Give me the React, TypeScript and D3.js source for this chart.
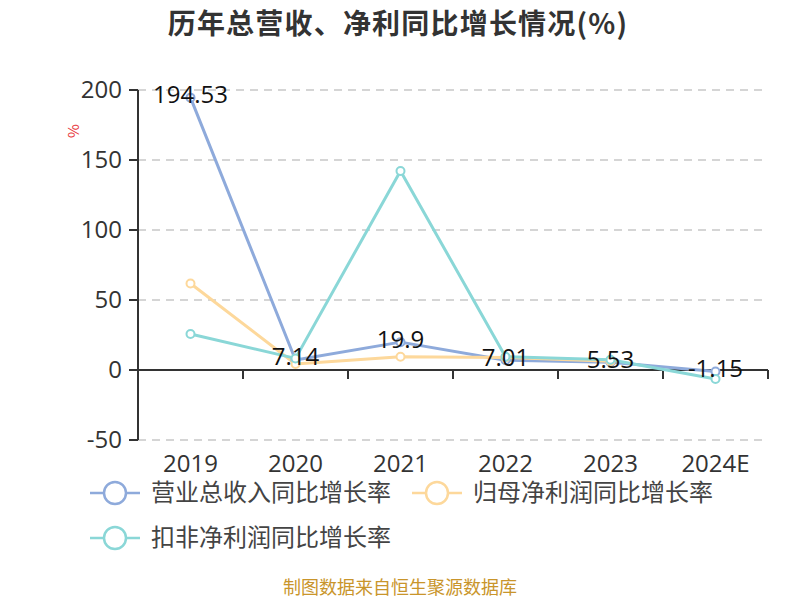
import React from "react";
import * as d3 from "d3";

const categories = ["2019", "2020", "2021", "2022", "2023", "2024E"];
const revenueGrowth: (number | null)[] = [194.53, 7.14, 19.9, 7.01, 5.53, -1.15];
const netProfitGrowth: (number | null)[] = [61.8, 4.3, 9.5, 9.0, 6.2, null];
const deductedProfitGrowth: (number | null)[] = [25.7, 8.3, 142.2, 9.5, 7.3, -6.4];
const yTicks = [-50, 0, 50, 100, 150, 200];
const seriesNames = ["营业总收入同比增长率", "归母净利润同比增长率", "扣非净利润同比增长率"];
const colors = ["#8eaadb", "#fdd89b", "#8ad7d7"];

const FONT = "'Noto Sans CJK SC', 'Noto Sans', sans-serif";
const NUMFONT = "'Open Sans', 'Noto Sans', sans-serif";

export default function App() {
  const W = 800, H = 600;
  const left = 138, right = 768, top = 90, bottom = 440;
  const x = d3.scaleBand<string>().domain(categories).range([left, right]);
  const y = d3.scaleLinear().domain([-50, 200]).range([bottom, top]);
  const cx = (c: string) => (x(c) as number) + x.bandwidth() / 2;

  const allSeries = [revenueGrowth, netProfitGrowth, deductedProfitGrowth];
  const line = d3
    .line<number | null>()
    .defined((d) => d !== null)
    .x((_, i) => cx(categories[i]))
    .y((d) => y(d as number));

  return (
    <svg width={W} height={H} style={{ display: "block", position: "absolute", left: 0, top: 0 }} fontFamily={FONT}>
      <rect width={W} height={H} fill="#fff" />
      <text x={398} y={24} dy="0.36em" textAnchor="middle" fontSize={28} letterSpacing={1.2} fontWeight="bold" fill="#333">
        历年总营收、净利同比增长情况(%)
      </text>
      {/* grid */}
      {yTicks.filter((t) => t !== 0).map((t) => (
        <line key={t} x1={left} x2={right} y1={y(t)} y2={y(t)} stroke="#c8c8c8" strokeWidth={1.5} strokeDasharray="8,6" />
      ))}
      {/* y axis */}
      <line x1={left} x2={left} y1={top} y2={bottom} stroke="#333" strokeWidth={2} />
      {yTicks.map((t) => (
        <g key={t}>
          <line x1={left - 9} x2={left} y1={y(t)} y2={y(t)} stroke="#333" strokeWidth={2} />
          <text x={left - 16} y={y(t)} dy="0.35em" textAnchor="end" fontSize={24} fontFamily={NUMFONT} fill="#333">
            {t}
          </text>
        </g>
      ))}
      <text transform={`translate(79,131) rotate(-90)`} textAnchor="middle" fontSize={15} fill="#e8333a">%</text>
      {/* x axis at 0 */}
      <line x1={left} x2={right} y1={y(0)} y2={y(0)} stroke="#333" strokeWidth={2} />
      {categories.map((c) => (
        <g key={c}>
          <line x1={(x(c) as number) + x.bandwidth()} x2={(x(c) as number) + x.bandwidth()} y1={y(0)} y2={y(0) + 9} stroke="#333" strokeWidth={2} />
          <text x={cx(c)} y={464} dy="0.35em" textAnchor="middle" fontSize={24} fontFamily={NUMFONT} fill="#333">{c}</text>
        </g>
      ))}
      {/* lines */}
      {allSeries.map((s, si) => (
        <path key={si} d={line(s) || ""} fill="none" stroke={colors[si]} strokeWidth={3} strokeLinejoin="round" />
      ))}
      {allSeries.map((s, si) =>
        s.map((v, i) =>
          v === null ? null : (
            <circle key={`${si}-${i}`} cx={cx(categories[i])} cy={y(v)} r={4} fill="#fff" stroke={colors[si]} strokeWidth={2} />
          )
        )
      )}
      {/* labels */}
      {revenueGrowth.map((v, i) =>
        v === null ? null : (
          <text key={i} x={cx(categories[i])} y={y(v) - 3} dy="0.35em" textAnchor="middle" fontSize={24} fontFamily={NUMFONT} fill="#111">
            {v}
          </text>
        )
      )}
      {/* legend */}
      {[
        { x: 90, y: 493 },
        { x: 412, y: 493 },
        { x: 90, y: 538 },
      ].map((p, i) => (
        <g key={i}>
          <line x1={p.x} x2={p.x + 50} y1={p.y} y2={p.y} stroke={colors[i]} strokeWidth={2.5} />
          <circle cx={p.x + 25} cy={p.y} r={11} fill="#fff" stroke={colors[i]} strokeWidth={2.5} />
          <text x={p.x + 61} y={p.y} dy="0.35em" fontSize={24} fill="#444">{seriesNames[i]}</text>
        </g>
      ))}
      <text x={400} y={588} dy="0.35em" textAnchor="middle" fontSize={18} fill="#c9952b">制图数据来自恒生聚源数据库</text>
    </svg>
  );
}
